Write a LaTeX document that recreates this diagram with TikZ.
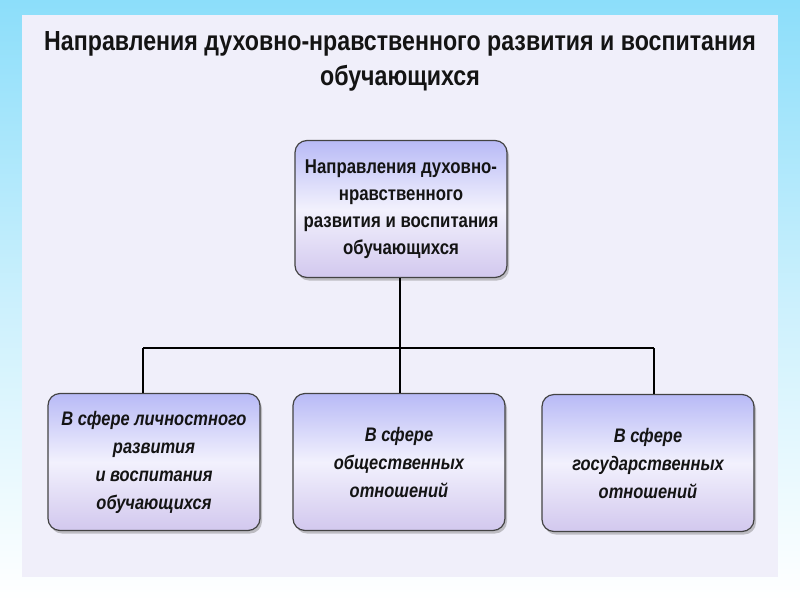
\documentclass[tikz,border=0pt]{standalone}
\usepackage{fontspec}
\setmainfont{Liberation Sans}[FakeStretch=0.84]
\usepackage{tikz}
\usetikzlibrary{shadows, positioning}

\definecolor{glow}{RGB}{140,222,250}
\definecolor{panel}{RGB}{240,239,250}
\definecolor{boxtop}{RGB}{184,186,246}
\definecolor{boxmid}{RGB}{242,241,253}
\definecolor{boxbot}{RGB}{210,200,238}
\definecolor{ink}{RGB}{20,20,20}

\begin{document}
\begin{tikzpicture}[x=1pt, y=-1pt,
    dirbox/.style={draw=ink!80, line width=1.2pt, rounded corners=12pt,
        top color=boxtop, bottom color=boxbot, middle color=boxmid,
        drop shadow={shadow xshift=2pt, shadow yshift=-3pt, opacity=0.45},
        minimum width=212pt, minimum height=137pt, align=center,
        font=\fontsize{20}{27}\selectfont\bfseries, text=ink},
    sphere/.style={dirbox, font=\fontsize{19.6}{28}\selectfont\bfseries\itshape},
    link/.style={draw=black, line width=2.8pt}
]
    \useasboundingbox (0,0) rectangle (800,600);
    \fill[top color=glow, bottom color=white, middle color=glow!45] (0,0) rectangle (800,600);
    \fill[panel] (22,15) rectangle (778,577);

    \node[font=\fontsize{27.6}{35}\selectfont\bfseries, text=ink, align=center] (title) at (400,61)
        {Направления духовно-нравственного развития и воспитания\\обучающихся};

    \node[dirbox] (main) at (401,209) {Направления духовно-\\нравственного\\развития и воспитания\\обучающихся};

    \node[sphere] (pers)  at (154,462) {В сфере личностного\\развития\\и воспитания\\обучающихся};
    \node[sphere] (soc)   at (399,462) {В сфере\\общественных\\отношений};
    \node[sphere] (state) at (648,463) {В сфере\\государственных\\отношений};

    % T-shaped connector
    \coordinate (fork) at (400,348);
    \coordinate (forkL) at (143,348);
    \coordinate (forkR) at (654,348);
    \draw[link] (main.south -| fork) -- (fork);
    \draw[link] (forkL) -- (forkR);
    \draw[link] (forkL) -- (forkL |- pers.north);
    \draw[link] (fork) -- (fork |- soc.north);
    \draw[link] (forkR) -- (forkR |- state.north);
\end{tikzpicture}
\end{document}
